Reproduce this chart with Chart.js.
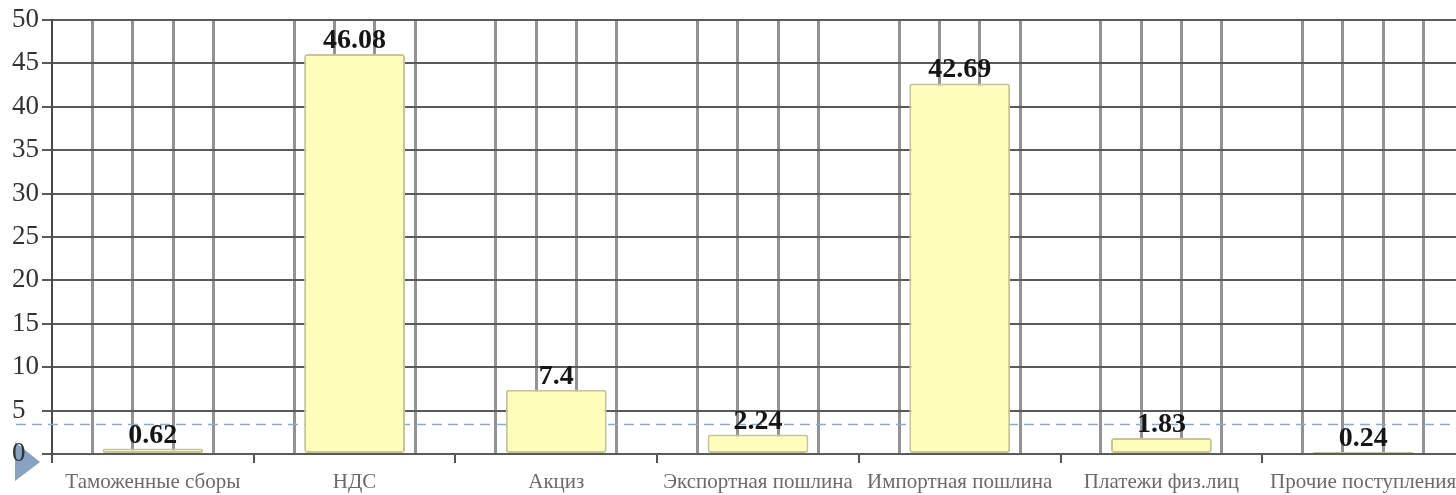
<!DOCTYPE html>
<html>
<head>
<meta charset="utf-8">
<script src="https://cdn.jsdelivr.net/npm/chart.js@4/dist/chart.umd.min.js"></script>
<style>
  html, body { margin: 0; padding: 0; background: #fff; overflow: hidden; }
  #wrap { width: 1470px; height: 495px; }
</style>
</head>
<body>
<div id="wrap"><canvas id="chart" width="1470" height="495"></canvas></div>
<script>
// data
const categories = [
  "Таможенные сборы",
  "НДС",
  "Акциз",
  "Экспортная пошлина",
  "Импортная пошлина",
  "Платежи физ.лиц",
  "Прочие поступления",
];
const values = [0.62, 46.08, 7.4, 2.24, 42.69, 1.83, 0.24];
const yMin = 0;
const yMax = 50;
const yStep = 5;
const cellsPerCategory = 5; // vertical grid cells inside each category
const guideValue = 3.45;    // dashed slide line

const hGrid = "#5a5a5a";
const vGrid = "#939393";

// white page, slide triangle
const background = {
  id: "background",
  beforeDraw(chart) {
    const ctx = chart.ctx;
    ctx.save();
    ctx.fillStyle = "#ffffff";
    ctx.fillRect(0, 0, chart.width, chart.height);
    const b = chart.chartArea.bottom;
    ctx.fillStyle = "#87a3c0";
    ctx.beginPath();
    ctx.moveTo(15, b - 12);
    ctx.lineTo(40, b + 8);
    ctx.lineTo(15, b + 27);
    ctx.closePath();
    ctx.fill();
    ctx.restore();
  },
};

// dashed line under the bars
const guide = {
  id: "guide",
  beforeDatasetsDraw(chart) {
    const ctx = chart.ctx;
    const y = Math.round(chart.scales.y.getPixelForValue(guideValue)) + 0.5;
    ctx.save();
    ctx.strokeStyle = "#8faac6";
    ctx.lineWidth = 1.5;
    ctx.setLineDash([10, 6]);
    ctx.beginPath();
    ctx.moveTo(16, y);
    ctx.lineTo(chart.width, y);
    ctx.stroke();
    ctx.restore();
  },
};

// value labels over the bars
const valueLabels = {
  id: "valueLabels",
  afterDatasetsDraw(chart) {
    const ctx = chart.ctx;
    const meta = chart.getDatasetMeta(0);
    ctx.save();
    ctx.font = 'bold 28px "Liberation Serif"';
    ctx.fillStyle = "#151515";
    ctx.textAlign = "center";
    ctx.textBaseline = "alphabetic";
    meta.data.forEach((bar, i) => {
      ctx.fillText(String(values[i]), bar.x, bar.y - 6);
    });
    ctx.restore();
  },
};

new Chart(document.getElementById("chart"), {
  type: "bar",
  plugins: [background, guide, valueLabels],
  data: {
    labels: categories,
    datasets: [
      {
        data: values,
        backgroundColor: "#ffffbb",
        borderColor: "#c4c698",
        borderWidth: 2,
        borderRadius: 3,
        borderSkipped: false,
        categoryPercentage: 1,
        barPercentage: 0.5,
      },
    ],
  },
  options: {
    responsive: false,
    animation: false,
    devicePixelRatio: 1,
    layout: { padding: { top: 20, right: 6, left: 12, bottom: 0 } },
    plugins: {
      legend: { display: false },
      tooltip: { enabled: false },
    },
    scales: {
      x: {
        position: "bottom",
        offset: true,
        grid: {
          offset: true,
          drawOnChartArea: false,
          drawTicks: true,
          tickLength: 9,
          color: "#555555",
          lineWidth: 2,
        },
        border: { display: true, color: hGrid, width: 2 },
        ticks: {
          autoSkip: false,
          maxRotation: 0,
          minRotation: 0,
          padding: 7,
          color: "#6a6a6a",
          font: { family: "Liberation Serif", size: 21 },
        },
        afterFit(scale) {
          scale.height = 41;
        },
      },
      xGrid: {
        type: "linear",
        position: "top",
        offset: false,
        min: 0,
        max: categories.length * cellsPerCategory,
        ticks: { display: false, stepSize: 1, maxTicksLimit: 100, autoSkip: false },
        grid: {
          offset: false,
          drawTicks: false,
          lineWidth: 3,
          color: (c) => (c.index % cellsPerCategory === 0 ? "rgba(0,0,0,0)" : vGrid),
        },
        border: { display: false },
        afterFit(scale) {
          scale.height = 0;
        },
      },
      y: {
        min: yMin,
        max: yMax,
        ticks: {
          stepSize: yStep,
          crossAlign: "far",
          padding: 2,
          color: "#333333",
          font: { family: "Liberation Serif", size: 27 },
        },
        grid: {
          color: hGrid,
          lineWidth: 2,
          tickLength: 10,
        },
        border: { display: true, color: "#4a4a4a", width: 2 },
        afterFit(scale) {
          scale.width = 40;
        },
      },
    },
  },
});
</script>
</body>
</html>
